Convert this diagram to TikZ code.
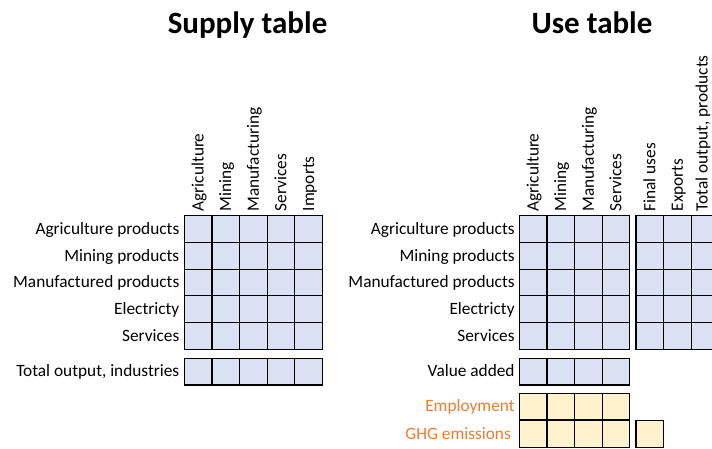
\documentclass[tikz,border=0pt]{standalone}
\usepackage{fontspec}
\setmainfont{Carlito}
\definecolor{cellblue}{HTML}{D9E1F2}
\definecolor{cellyellow}{HTML}{FFF2CC}
\definecolor{labelorange}{HTML}{ED7D31}
\newcommand{\lblfont}{\fontsize{17.3}{20}\selectfont}
\newcommand{\ttlfont}{\fontsize{31}{36}\selectfont\bfseries}
\begin{document}
\begin{tikzpicture}[x=1pt,y=-1pt,
  cell/.style={draw=black, line width=1.2pt, minimum width=27.6pt, minimum height=26.7pt, inner sep=0pt, outer sep=0pt, anchor=north west},
  bluecell/.style={cell, fill=cellblue},
  yellowcell/.style={cell, fill=cellyellow},
  rowlabel/.style={anchor=base east, inner sep=0pt, font=\lblfont},
  colhead/.style={rotate=90, anchor=base west, inner sep=0pt, font=\lblfont},
  tabletitle/.style={anchor=base, inner sep=0pt, font=\ttlfont}]
\useasboundingbox (0,0) rectangle (712,448);
\clip (0,0) rectangle (712,448);

% Titles
\node[tabletitle] (supplytitle) at (247.5,33.3) {Supply table};
\node[tabletitle] (usetitle) at (592,33.3) {Use table};

% ---------- Supply table ----------
\foreach \r in {0,...,4}
  \foreach \c in {0,...,4}
    \node[bluecell] (s-\r-\c) at ({184.3+27.6*\c},{215.7+26.7*\r}) {};
\foreach \c in {0,...,4}
  \node[bluecell] (st-\c) at ({184.3+27.6*\c},358.3) {};

\foreach \name [count=\i from 0] in {Agriculture,Mining,Manufacturing,Services,Imports}
  \node[colhead] (sh-\i) at ({184.3+27.6*\i+13.8+5.5},211.5) {\name};

\foreach \name [count=\i from 0] in {Agriculture products,Mining products,Manufactured products,Electricty,Services}
  \node[rowlabel] (sl-\i) at (179.5,{215.7+26.7*\i+13.35+5.3}) {\name};
\node[rowlabel] (slt) at (179.5,{358.3+13.35+5.3}) {Total output, industries};

% ---------- Use table ----------
\foreach \r in {0,...,4}
  \foreach \c in {0,...,3}
    \node[bluecell] (u-\r-\c) at ({519.3+27.6*\c},{215.7+26.7*\r}) {};
\foreach \r in {0,...,4}
  \foreach \c in {0,...,2}
    \node[bluecell] (f-\r-\c) at ({636+27.6*\c},{215.7+26.7*\r}) {};
\foreach \c in {0,...,3}
  \node[bluecell] (va-\c) at ({519.3+27.6*\c},358.3) {};
\foreach \c in {0,...,3}
  \node[yellowcell] (em-\c) at ({519.3+27.6*\c},393.3) {};
\foreach \c in {0,...,3}
  \node[yellowcell] (gh-\c) at ({519.3+27.6*\c},420.6) {};
\node[yellowcell] (gh-f) at (636,420.6) {};

\foreach \name [count=\i from 0] in {Agriculture,Mining,Manufacturing,Services}
  \node[colhead] (uh-\i) at ({519.3+27.6*\i+13.8+5.5},211.5) {\name};
\foreach \name [count=\i from 0] in {Final uses,Exports}
  \node[colhead] (fh-\i) at ({636+27.6*\i+13.8+5.5},211.5) {\name};
\node[colhead] (fh-2) at (707.5,211.5) {Total output, products};

\foreach \name [count=\i from 0] in {Agriculture products,Mining products,Manufactured products,Electricty,Services}
  \node[rowlabel] (ul-\i) at (514.8,{215.7+26.7*\i+13.35+5.3}) {\name};
\node[rowlabel] (ulva) at (514.8,{358.3+13.35+5.3}) {Value added};
\node[rowlabel, text=labelorange] (ulem) at (514.8,{393.3+13.35+5.3}) {Employment};
\node[rowlabel, text=labelorange] (ulgh) at (511,{420.6+13.35+5.3}) {GHG emissions};
\end{tikzpicture}
\end{document}
